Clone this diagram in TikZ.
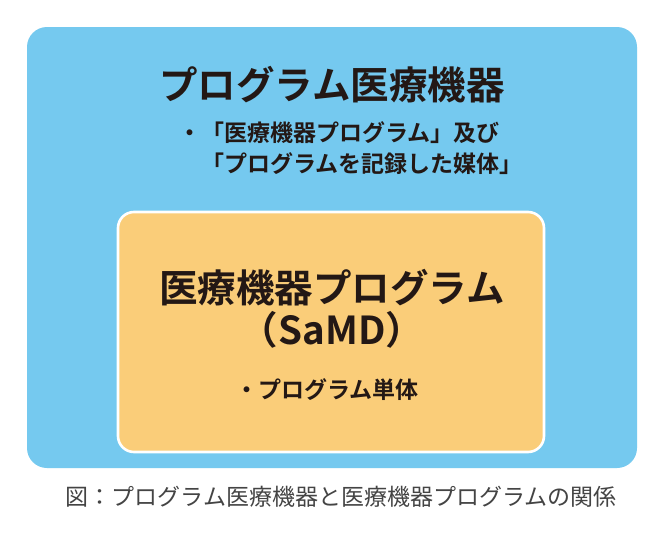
\documentclass[tikz,border=0pt]{standalone}
\usepackage{fontspec}
\newfontfamily\jp{Noto Sans CJK JP}
\newfontfamily\jpb{Noto Sans CJK JP Bold}
\definecolor{skyblue}{HTML}{75C9EF}
\definecolor{paleorange}{HTML}{FACD79}
\definecolor{inktext}{HTML}{231815}
\definecolor{captiontext}{HTML}{444444}
\tikzset{
  outerbox/.style={fill=skyblue, rounded corners=20pt},
  innerbox/.style={fill=paleorange, draw=white, line width=2.6pt, rounded corners=16pt},
  bigtitle/.style={inner sep=0pt, text=inktext, font=\jpb\fontsize{38.5}{42}\selectfont},
  subtext/.style={inner sep=0pt, text=inktext, font=\jpb\fontsize{23}{26}\selectfont},
  captionstyle/.style={inner sep=0pt, text=captiontext, font=\jp\fontsize{23}{26}\selectfont}
}
\begin{document}
\begin{tikzpicture}[x=1pt,y=-1pt]
\useasboundingbox (0,0) rectangle (664,544);
\fill[white] (0,0) rectangle (664,544);
\node[outerbox, minimum width=610pt, minimum height=441pt, inner sep=0pt] (outer) at (332,247.5) {};
\node[innerbox, minimum width=426pt, minimum height=240pt, inner sep=0pt] (inner) at (331,332) {};
\node[bigtitle] (t1) at (332,85) {プログラム医療機器};
\node[subtext, anchor=west] (l2) at (178,133) {・「医療機器プログラム」及び};
\node[subtext, anchor=west] (l3) at (201,164) {「プログラムを記録した媒体」};
\node[bigtitle] (t2) at (332,288) {医療機器プログラム};
\node[bigtitle] (t3) at (332,330) {（SaMD）};
\node[subtext] (l4) at (327,390) {・プログラム単体};
\node[captionstyle] (cap) at (341,497) {図：プログラム医療機器と医療機器プログラムの関係};
\end{tikzpicture}
\end{document}
